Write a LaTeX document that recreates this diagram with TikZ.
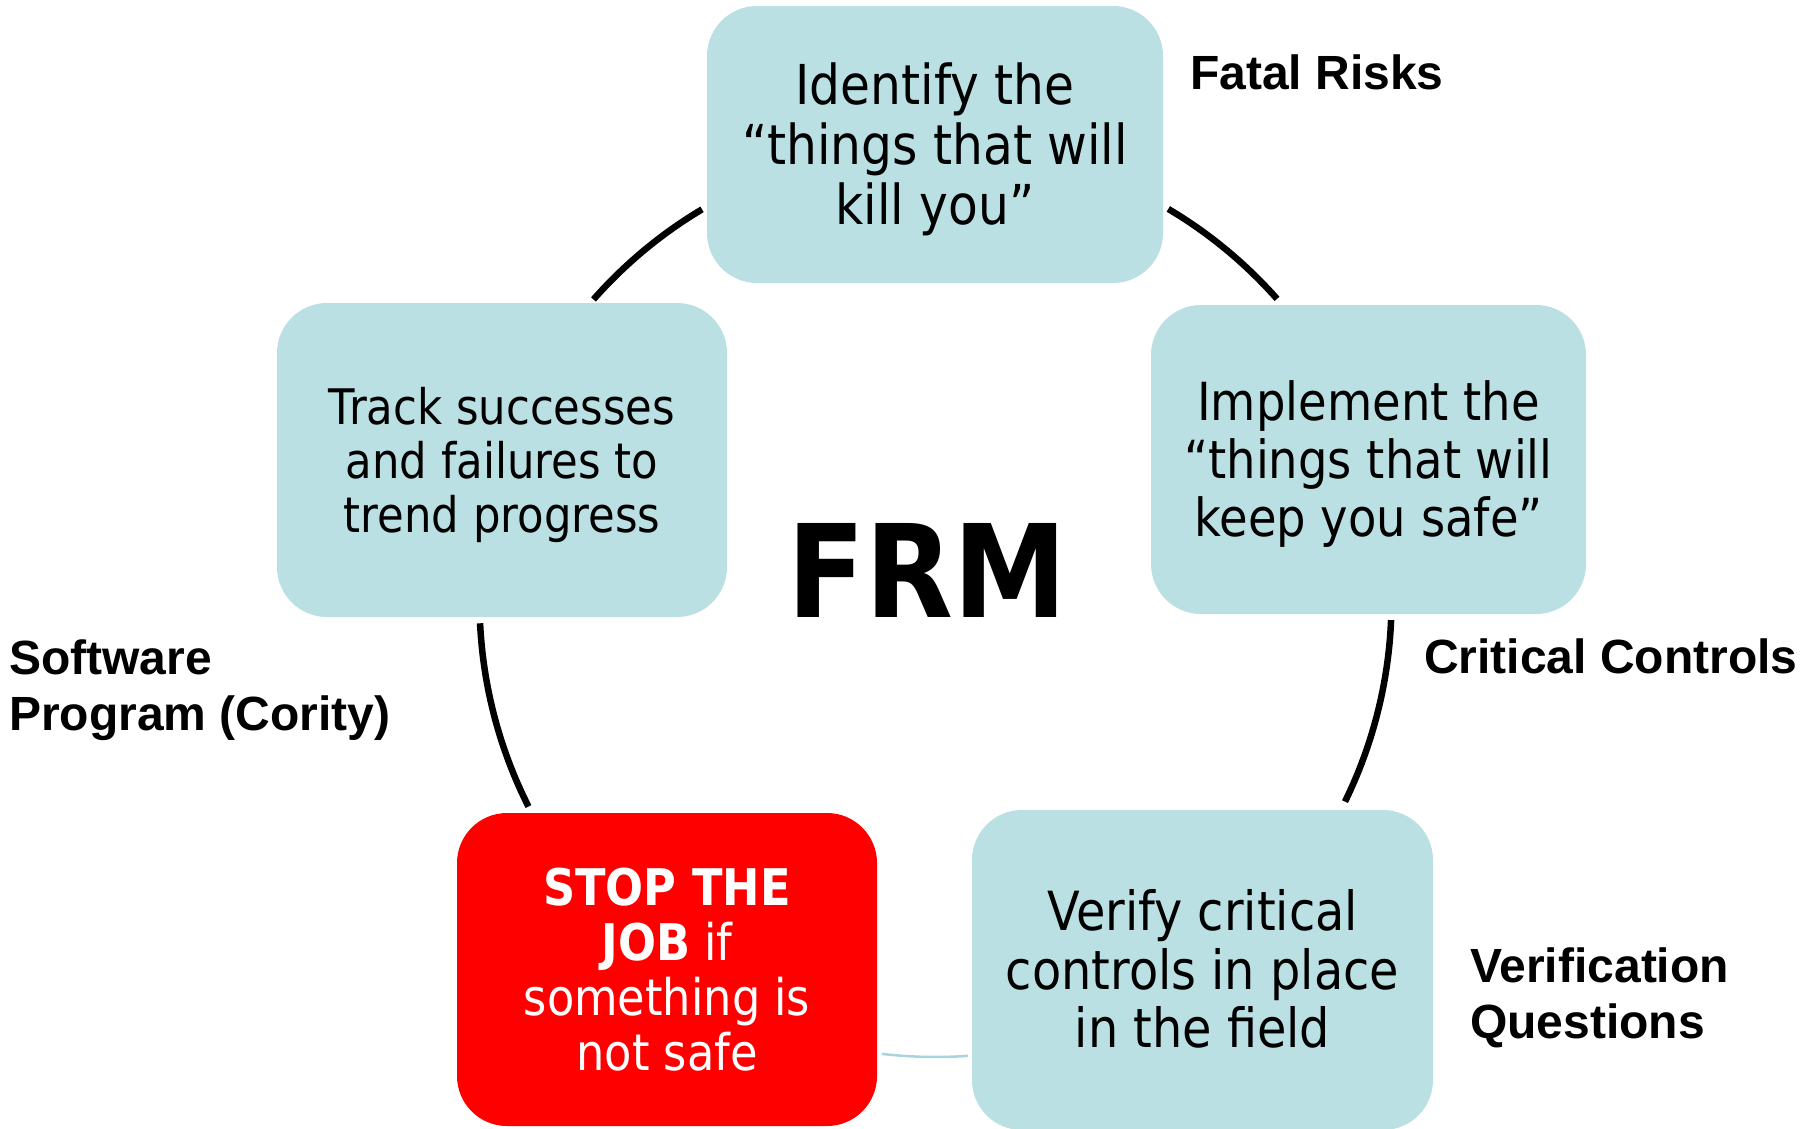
\documentclass[tikz,border=0pt]{standalone}
\usepackage{fontspec}
\setmainfont{DejaVu Sans}
\newfontfamily\boxfont[FakeStretch=0.885]{DejaVu Sans}
\newfontfamily\labelfont{Liberation Sans}
\usetikzlibrary{calc}
\definecolor{boxblue}{RGB}{187,224,227}
\definecolor{stopred}{RGB}{255,0,0}
\definecolor{thinblue}{RGB}{168,212,219}
\newcommand{\linesbox}[2]{\raisebox{0pt}[#1pt][0pt]{\begin{tabular}[b]{@{}c@{}}#2\end{tabular}}}
\newcommand{\leftlines}[1]{\begin{tabular}[b]{@{}l@{}}#1\end{tabular}}
\renewcommand{\arraystretch}{1}
\begin{document}
\begin{tikzpicture}[x=1pt,y=-1pt,
  boxst/.style={rounded corners=50pt, fill=boxblue, inner sep=0pt, text=black},
  stopst/.style={boxst, fill=stopred, text=white},
  arcst/.style={line width=6.5pt, draw=black},
  thinarc/.style={line width=2.5pt, draw=thinblue},
  lab/.style={font=\labelfont\bfseries\fontsize{48}{56}\selectfont, inner sep=0pt, anchor=base west}]
\useasboundingbox (0,0) rectangle (1817,1128);
\fill[white] (0,0) rectangle (1817,1128);

% boxes
\node[boxst, minimum width=456pt, minimum height=277pt,
      font=\boxfont\fontsize{55}{60}\selectfont] (identify) at (935,144.5)
  {\linesbox{160}{Identify the\\“things that will\\kill you”}};
\node[boxst, minimum width=450pt, minimum height=314pt,
      font=\boxfont\fontsize{49}{54}\selectfont] (track) at (502,460)
  {\linesbox{144}{Track successes\\and failures to\\trend progress}};
\node[boxst, minimum width=435pt, minimum height=309pt,
      font=\boxfont\fontsize{52.5}{58}\selectfont] (implement) at (1368.5,459.5)
  {\linesbox{154}{Implement the\\“things that will\\keep you safe”}};
\node[stopst, minimum width=420pt, minimum height=313pt,
      font=\boxfont\fontsize{50.5}{55}\selectfont] (stop) at (667,969.5)
  {\linesbox{202}{\bfseries STOP THE\\{\bfseries JOB} if\\something is\\not safe}};
\node[boxst, minimum width=461pt, minimum height=320pt,
      font=\boxfont\fontsize{54}{58}\selectfont] (verify) at (1202.5,970)
  {\linesbox{155}{Verify critical\\controls in place\\in the field}};

% centre title
\node[font=\boxfont\bfseries\fontsize{129}{129}\selectfont, inner sep=0pt, anchor=base] (frm) at (927.5,617) {FRM};

% side labels
\node[lab] (fatal) at (1190,89) {Fatal Risks};
\node[lab] (critical) at (1424,673) {Critical Controls};
\node[lab] (software) at (9,730) {\leftlines{Software\\Program (Cority)}};
\node[lab] (verifq) at (1470,1038) {\leftlines{Verification\\Questions}};

% cycle arcs
\coordinate (ctr) at (935.5,601);
\path (ctr) ++(-120.8:456) coordinate (tlA);
\path (ctr) ++(-59.3:456) coordinate (trA);
\path (ctr) ++(2.4:456) coordinate (rA);
\path (ctr) ++(85.9:456) coordinate (bA);
\path (ctr) ++(153.2:456) coordinate (lA);
\draw[arcst] (tlA) arc[start angle=-120.8, end angle=-138.6, radius=456];
\draw[arcst] (trA) arc[start angle=-59.3, end angle=-41.5, radius=456];
\draw[arcst] (rA) arc[start angle=2.4, end angle=26.1, radius=456];
\draw[thinarc] (bA) arc[start angle=85.9, end angle=96.75, radius=456];
\draw[arcst] (lA) arc[start angle=153.2, end angle=177.2, radius=456];
\end{tikzpicture}
\end{document}
